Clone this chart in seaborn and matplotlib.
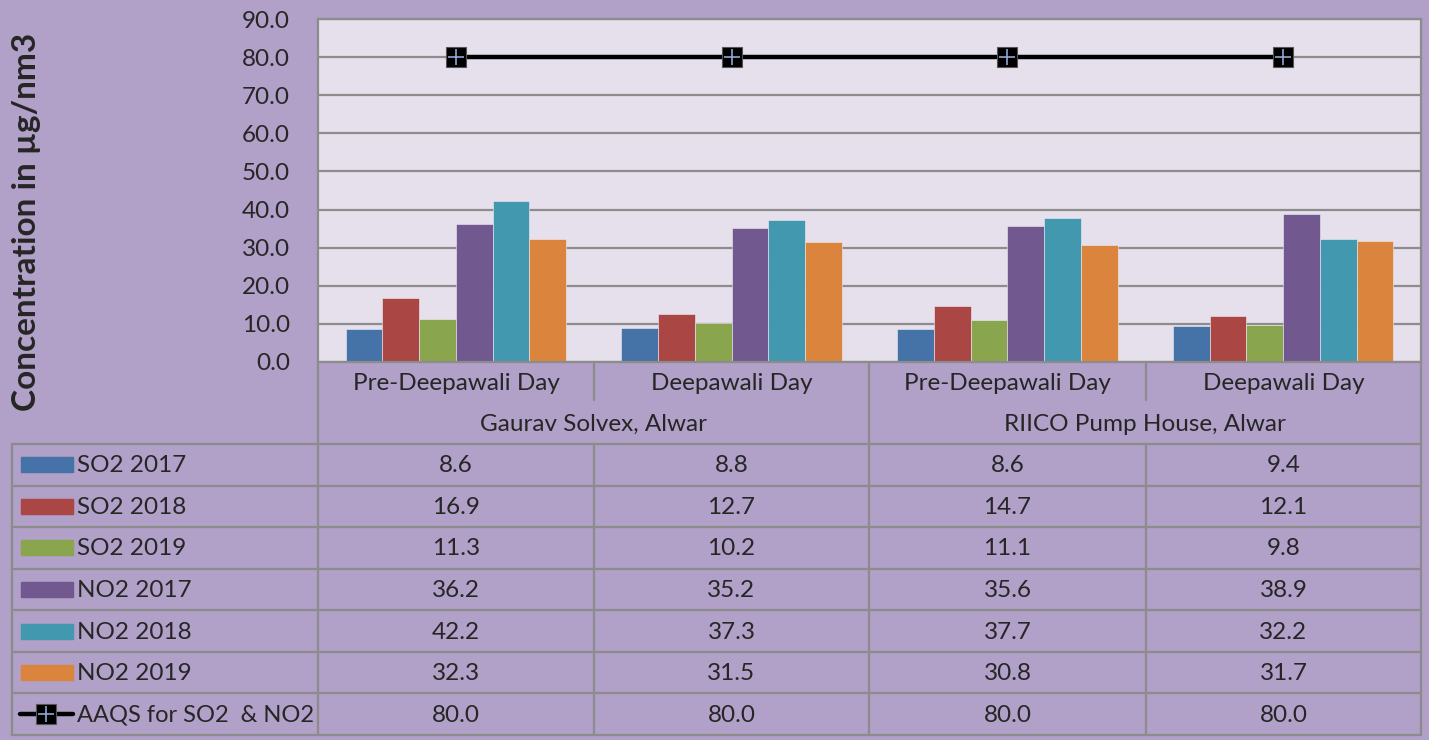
import numpy as np
import pandas as pd
import seaborn as sns
import matplotlib.pyplot as plt
from matplotlib.patches import Rectangle

# ---- data ----
days = ["Pre-Deepawali Day", "Deepawali Day", "Pre-Deepawali Day", "Deepawali Day"]
sites = ["Gaurav Solvex, Alwar", "RIICO Pump House, Alwar"]
series = ["SO2 2017", "SO2 2018", "SO2 2019", "NO2 2017", "NO2 2018", "NO2 2019"]
so2_2017 = [8.6, 8.8, 8.6, 9.4]
so2_2018 = [16.9, 12.7, 14.7, 12.1]
so2_2019 = [11.3, 10.2, 11.1, 9.8]
no2_2017 = [36.2, 35.2, 35.6, 38.9]
no2_2018 = [42.2, 37.3, 37.7, 32.2]
no2_2019 = [32.3, 31.5, 30.8, 31.7]
aaqs = [80.0, 80.0, 80.0, 80.0]
aaqs_label = "AAQS for SO2  & NO2"

colors = ["#4572A7", "#AA4643", "#89A54E", "#71588F", "#4198AF", "#DB843D"]
bg = "#B1A0C7"
plot_bg = "#E5E0EC"
grid_c = "#8C8C8C"
fs = 17.5

values = [so2_2017, so2_2018, so2_2019, no2_2017, no2_2018, no2_2019]
slots = [f"{i}" for i in range(len(days))]
rows = []
for name, vals in zip(series, values):
    for s, v in zip(slots, vals):
        rows.append({"slot": s, "series": name, "value": v})
df = pd.DataFrame(rows)

sns.set_style("white")
plt.rcParams["font.family"] = ["Lato", "DejaVu Sans"]

W, H = 1429, 740
fig = plt.figure(figsize=(W / 100, H / 100), dpi=100, facecolor=bg)

# plot area in pixel coords
L, R, T, B = 318, 1421, 19, 362
ax = fig.add_axes([L / W, 1 - B / H, (R - L) / W, (B - T) / H])
ax.set_facecolor(plot_bg)

sns.barplot(data=df, x="slot", y="value", hue="series", order=slots,
            hue_order=series, palette=colors, width=0.8, saturation=1,
            edgecolor="#F0ECF4", linewidth=0.4, ax=ax, legend=False, zorder=2)

xs = np.arange(len(days))
ax.plot(xs, aaqs, color="black", lw=3.2, zorder=4, solid_capstyle="butt")
ax.plot(xs, aaqs, ls="none", marker="s", ms=14, mfc="black", mec="#555555",
        mew=0.8, zorder=5)
ax.plot(xs, aaqs, ls="none", marker="+", ms=12, mec="#8DA9D4", mew=1.2, zorder=6)

ax.set_ylim(0, 90)
ax.set_xlim(-0.5, len(days) - 0.5)
ax.set_yticks(np.arange(0, 91, 10))
ax.set_yticklabels([f"{v:.1f}" for v in np.arange(0, 91, 10)], fontsize=fs)
ax.tick_params(axis="y", length=0, pad=20)
ax.set_xticks([])
ax.set_xlabel("")
ax.set_ylabel("")
ax.yaxis.grid(True, color=grid_c, lw=1.6, zorder=0)
ax.set_axisbelow(True)
for sp in ax.spines.values():
    sp.set_color(grid_c)
    sp.set_linewidth(1.6)

fig.text(27 / W, 1 - 222 / H, "Concentration in µg/nm3", rotation=90,
         fontsize=24, fontweight="bold", ha="center", va="center")

# ---- data table drawn in pixel coords ----
tab = fig.add_axes([0, 0, 1, 1], facecolor="none")
tab.set_xlim(0, W)
tab.set_ylim(H, 0)
tab.axis("off")

lc = dict(color=grid_c, lw=1.6)
cols = [L, 594, 869, 1146, R]
h1, h2 = 403, 444
row_h = (735 - h2) / 7
tab.plot([L, L], [B, h2], **lc)
tab.plot([R, R], [B, h2], **lc)
tab.plot([869, 869], [B, h2], **lc)
tab.plot([594, 594], [B, h1 - 3], **lc)
tab.plot([1146, 1146], [B, h1 - 3], **lc)
for i, d in enumerate(days):
    tab.text((cols[i] + cols[i + 1]) / 2, (B + h1) / 2 + 1, d,
             fontsize=fs, ha="center", va="center")
for i, s in enumerate(sites):
    tab.text((cols[2 * i] + cols[2 * i + 2]) / 2, (h1 + h2) / 2 + 1, s,
             fontsize=fs, ha="center", va="center")

left = 12
for r in range(8):
    y = h2 + r * row_h
    tab.plot([left, R], [y, y], **lc)
for x in [left] + cols:
    tab.plot([x, x], [h2, 735], **lc)

all_rows = values + [aaqs]
for r, (name, vals) in enumerate(zip(series + [aaqs_label], all_rows)):
    yc = h2 + (r + 0.5) * row_h
    if r < len(series):
        tab.add_patch(Rectangle((21, yc - 7.5), 52, 15, color=colors[r]))
    else:
        tab.plot([20, 73], [yc, yc], color="black", lw=3.2, solid_capstyle="round")
        tab.plot([46.5], [yc], marker="s", ms=14, mfc="black", mec="#555555", mew=0.8)
        tab.plot([46.5], [yc], marker="+", ms=12, mec="#8DA9D4", mew=1.2)
    tab.text(77, yc + 1, name, fontsize=17 if r == len(series) else fs,
             ha="left", va="center")
    for i, v in enumerate(vals):
        tab.text((cols[i] + cols[i + 1]) / 2, yc + 1, f"{v:.1f}",
                 fontsize=fs, ha="center", va="center")

fig.savefig("out.png", dpi=100, facecolor=bg)
